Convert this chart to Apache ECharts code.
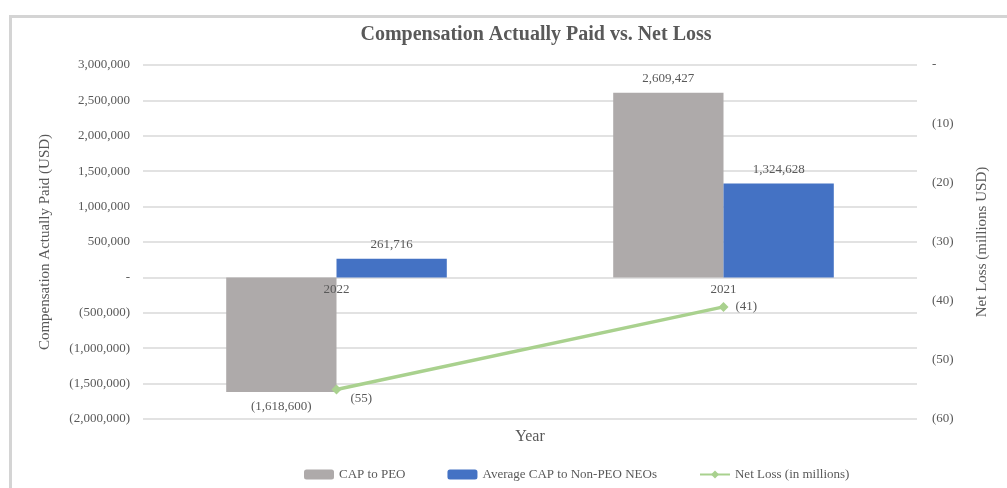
<!DOCTYPE html>
<html>
<head>
<meta charset="utf-8">
<script src="https://cdn.jsdelivr.net/npm/echarts@6/dist/echarts.min.js"></script>
<style>
  html, body { margin: 0; padding: 0; background: #fff; }
  #main { width: 1007px; height: 488px; }
</style>
</head>
<body>
<div id="main"></div>
<script>
var years = ['2022', '2021'];
var capPeo = [-1618600, 2609427];
var capNonPeo = [261716, 1324628];
var netLoss = [-55, -41];

var font = 'Liberation Serif';
var txt = '#595959';

function money(v) {
  var s = Math.abs(v).toLocaleString('en-US');
  if (v === 0) return '-';
  return v < 0 ? '(' + s + ')' : s;
}

var chartDom = document.getElementById('main');
var myChart = echarts.init(chartDom);
var option;
option = {
  animation: false,
  textStyle: { fontFamily: font, color: txt },
  title: {
    text: 'Compensation Actually Paid vs. Net Loss',
    left: 531,
    top: 20,
    textAlign: 'center',
    textStyle: { fontFamily: font, fontSize: 20, fontWeight: 'bold', color: txt }
  },
  graphic: [{
    type: 'rect',
    left: 8,
    top: 14,
    shape: { width: 1020, height: 500 },
    style: { fill: 'none', stroke: '#d4d4d4', lineWidth: 3 },
    silent: true
  }],
  legend: {
    left: 299,
    top: 463,
    itemWidth: 30,
    itemHeight: 10,
    itemGap: 42,
    textStyle: { fontFamily: font, fontSize: 13, color: txt },
    data: ['CAP to PEO', 'Average CAP to Non-PEO NEOs', 'Net Loss (in millions)']
  },
  grid: { left: 143, right: 90, top: 65, bottom: 69, containLabel: false, outerBoundsMode: 'none' },
  xAxis: {
    type: 'category',
    data: years,
    offset: -141.6,
    z: 5,
    name: 'Year',
    nameLocation: 'middle',
    nameGap: 151,
    nameTextStyle: { fontFamily: font, fontSize: 16, color: txt },
    axisLine: { show: false, onZero: false },
    axisTick: { show: false },
    axisLabel: { fontFamily: font, fontSize: 13, color: txt, margin: 6 }
  },
  yAxis: [{
    type: 'value',
    min: -2000000,
    max: 3000000,
    interval: 500000,
    name: 'Compensation Actually Paid (USD)',
    nameLocation: 'middle',
    nameGap: 90,
    nameTextStyle: { fontFamily: font, fontSize: 15, color: txt },
    axisLine: { show: false },
    axisTick: { show: false },
    splitLine: { lineStyle: { color: '#d9d9d9', width: 1.5 } },
    axisLabel: { fontFamily: font, fontSize: 13, color: txt, margin: 13, formatter: money }
  }, {
    type: 'value',
    min: -60,
    max: 0,
    interval: 10,
    name: 'Net Loss (millions USD)',
    nameLocation: 'middle',
    nameGap: 58,
    nameTextStyle: { fontFamily: font, fontSize: 15, color: txt },
    axisLine: { show: false, onZero: false },
    axisTick: { show: false },
    splitLine: { show: false },
    axisLabel: { fontFamily: font, fontSize: 13, color: txt, margin: 15, formatter: money }
  }],
  series: [{
    name: 'CAP to PEO',
    type: 'bar',
    barGap: 0,
    barCategoryGap: '43%',
    itemStyle: { color: '#aeaaaa' },
    data: capPeo.map(function (v) {
      return { value: v, label: { position: v < 0 ? 'bottom' : 'top' } };
    }),
    label: {
      show: true, distance: 8, fontFamily: font, fontSize: 13, color: txt,
      formatter: function (p) { return money(p.value); }
    }
  }, {
    name: 'Average CAP to Non-PEO NEOs',
    type: 'bar',
    itemStyle: { color: '#4472c4' },
    data: capNonPeo,
    label: {
      show: true, position: 'top', distance: 8, fontFamily: font, fontSize: 13, color: txt,
      formatter: function (p) { return money(p.value); }
    }
  }, {
    name: 'Net Loss (in millions)',
    type: 'line',
    yAxisIndex: 1,
    symbol: 'diamond',
    symbolSize: 10,
    lineStyle: { color: '#a9d18e', width: 3.5 },
    itemStyle: { color: '#a9d18e' },
    data: netLoss.map(function (v, i) {
      return { value: v, label: { offset: i === 0 ? [4, 9] : [2, 0] } };
    }),
    label: {
      show: true, position: 'right', fontFamily: font, fontSize: 13, color: txt,
      formatter: function (p) { return money(p.value); }
    }
  }]
};

option && myChart.setOption(option);
</script>
</body>
</html>
